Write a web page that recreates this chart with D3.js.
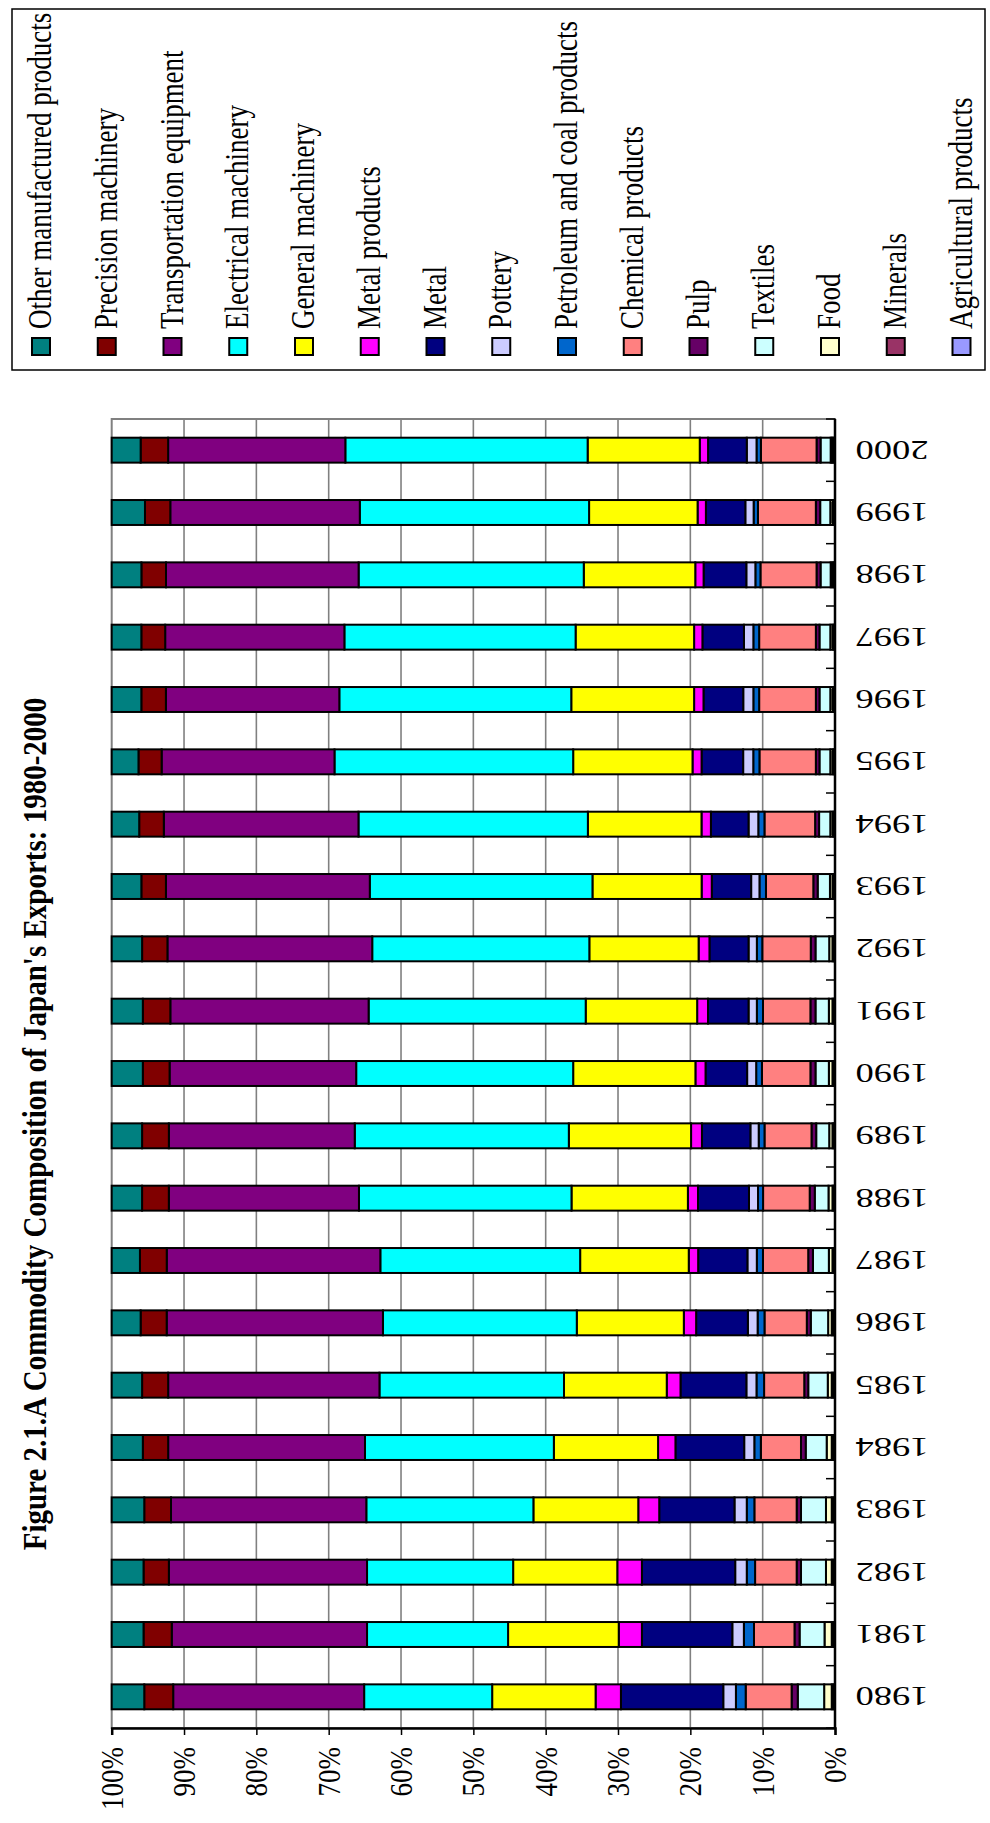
<!DOCTYPE html>
<html><head><meta charset="utf-8">
<script src="https://cdn.jsdelivr.net/npm/d3@7"></script>
<style>html,body{margin:0;padding:0;background:#fff;}svg{display:block;}</style>
</head><body>
<script>
// ---- DATA (percent shares, 1980..2000) ----
const years = [1980,1981,1982,1983,1984,1985,1986,1987,1988,1989,1990,1991,1992,1993,1994,1995,1996,1997,1998,1999,2000];
const tickLabels = ["0%","10%","20%","30%","40%","50%","60%","70%","80%","90%","100%"];
const title = "Figure 2.1.A Commodity Composition of Japan's Exports: 1980-2000";

const otherManufactured = [4.5,4.4,4.4,4.5,4.3,4.2,4.0,3.9,4.2,4.2,4.3,4.3,4.2,4.1,3.8,3.7,4.1,4.1,4.1,4.6,4.0];
const precisionMachinery = [4.0,3.9,3.5,3.7,3.5,3.6,3.6,3.7,3.7,3.7,3.7,3.8,3.5,3.4,3.4,3.2,3.4,3.3,3.4,3.5,3.8];
const transportation = [26.4,27.0,27.4,27.0,27.2,29.2,29.9,29.5,26.3,25.7,25.8,27.4,28.3,28.2,26.9,23.9,24.0,24.8,26.6,26.2,24.5];
const electrical = [17.7,19.5,20.2,23.1,26.1,25.5,26.8,27.6,29.4,29.6,30.0,30.0,30.0,30.8,31.7,33.0,32.1,32.0,31.1,31.7,33.5];
const generalMachinery = [14.3,15.3,14.4,14.5,14.4,14.2,14.8,15.0,16.1,16.9,16.9,15.4,15.1,15.1,15.7,16.5,17.0,16.4,15.4,15.0,15.5];
const metalProducts = [3.5,3.2,3.4,2.9,2.4,1.9,1.7,1.3,1.4,1.5,1.4,1.5,1.5,1.4,1.3,1.25,1.3,1.15,1.15,1.15,1.15];
const metal = [14.15,12.5,12.9,10.4,9.5,9.1,7.15,6.8,7.05,6.7,5.75,5.6,5.4,5.45,5.2,5.75,5.5,5.75,5.9,5.45,5.35];
const pottery = [1.75,1.6,1.6,1.7,1.4,1.4,1.35,1.3,1.25,1.15,1.25,1.15,1.15,1.15,1.35,1.4,1.4,1.3,1.25,1.15,1.35];
const petroleum = [1.35,1.4,1.15,1.05,0.9,1.05,0.95,0.85,0.7,0.8,0.8,0.85,0.75,0.9,0.85,0.85,0.8,0.8,0.7,0.6,0.6];
const chemical = [6.35,5.6,5.75,5.85,5.55,5.55,5.85,6.25,6.45,6.5,6.7,6.55,6.7,6.55,7.0,7.8,7.85,7.85,7.75,8.0,7.7];
const pulp = [0.85,0.7,0.6,0.6,0.65,0.55,0.55,0.65,0.7,0.65,0.7,0.7,0.65,0.6,0.55,0.5,0.5,0.5,0.55,0.6,0.55];
const textiles = [3.65,3.45,3.45,3.45,2.9,2.7,2.4,2.2,1.9,1.8,1.85,1.85,1.9,1.7,1.55,1.5,1.5,1.5,1.4,1.4,1.4];
const food = [1.05,1.0,0.8,0.8,0.7,0.55,0.5,0.5,0.55,0.45,0.5,0.5,0.45,0.35,0.3,0.3,0.3,0.3,0.25,0.3,0.2];
const minerals = [0.25,0.25,0.25,0.25,0.25,0.25,0.25,0.2,0.2,0.2,0.2,0.2,0.2,0.2,0.2,0.2,0.2,0.2,0.2,0.2,0.2];
const agricultural = [0.2,0.2,0.2,0.2,0.2,0.2,0.2,0.15,0.15,0.15,0.15,0.15,0.15,0.15,0.15,0.15,0.15,0.15,0.15,0.15,0.2];

// legend order (top of the stack first)
const seriesNames = ["Other manufactured products","Precision machinery","Transportation equipment","Electrical machinery","General machinery","Metal products","Metal","Pottery","Petroleum and coal products","Chemical products","Pulp","Textiles","Food","Minerals","Agricultural products"];
const seriesValues = [otherManufactured,precisionMachinery,transportation,electrical,generalMachinery,metalProducts,metal,pottery,petroleum,chemical,pulp,textiles,food,minerals,agricultural];
const seriesColors = ["#008080","#800000","#800080","#00FFFF","#FFFF00","#FF00FF","#000080","#CCCCFF","#0066CC","#FF8080","#660066","#CCFFFF","#FFFFCC","#993366","#9999FF"];

// ---- BUILD TABLE ----
const table = years.map((y,i)=>{
  const row = {year:y};
  seriesNames.forEach((n,k)=>{ row[n] = seriesValues[k][i]; });
  return row;
});
const stackKeys = seriesNames.slice().reverse(); // Agricultural at 0%
const stacked = d3.stack().keys(stackKeys).offset(d3.stackOffsetExpand)(table);
const colorOf = d3.scaleOrdinal().domain(seriesNames).range(seriesColors);

// ---- LAYOUT ----
const W = 990, H = 1823;
const plot = {left:111.7, right:835, top:419, bottom:1728};
const serif = "'Times New Roman','Liberation Serif',serif";

const svg = d3.select("body").append("svg").attr("width",W).attr("height",H);
svg.append("rect").attr("width",W).attr("height",H).attr("fill","#fff");

const x = d3.scaleLinear().domain([0,1]).range([plot.right, plot.left]);
const yBand = d3.scaleBand().domain(years.slice().reverse()).range([plot.top, plot.bottom]).paddingInner(0.6).paddingOuter(0.3);

// plot frame
svg.append("rect").attr("x",plot.left).attr("y",plot.top).attr("width",plot.right-plot.left).attr("height",plot.bottom-plot.top)
  .attr("fill","#fff").attr("stroke","#808080").attr("stroke-width",2);

// gridlines
svg.append("g").selectAll("line").data(d3.range(1,10).map(d=>d/10)).join("line")
  .attr("x1",d=>x(d)).attr("x2",d=>x(d)).attr("y1",plot.top).attr("y2",plot.bottom)
  .attr("stroke","#808080").attr("stroke-width",1.6);

// bars
const layers = svg.append("g").selectAll("g").data(stacked).join("g").attr("fill",d=>colorOf(d.key));
layers.selectAll("rect").data(d=>d).join("rect")
  .attr("x",d=>x(d[1])).attr("width",d=>x(d[0])-x(d[1]))
  .attr("y",d=>yBand(d.data.year)).attr("height",yBand.bandwidth())
  .attr("stroke","#000").attr("stroke-width",2);

// value axis (bottom)
const valueAxis = d3.axisBottom(x).tickValues(d3.range(0,11).map(d=>d/10)).tickSize(7).tickFormat("");
const gVal = svg.append("g").attr("transform",`translate(0,${plot.bottom})`).call(valueAxis);
gVal.select(".domain").attr("stroke","#000").attr("stroke-width",2.5);
gVal.selectAll(".tick line").attr("stroke","#000").attr("stroke-width",1.5);
svg.append("g").selectAll("text").data(tickLabels).join("text")
  .attr("transform",(d,i)=>`translate(${x(i/10)+11},1747) rotate(-90) scale(1,1.2)`)
  .attr("text-anchor","end").attr("font-family",serif).attr("font-size",27).attr("fill","#000")
  .text(d=>d);

// category axis (right)
svg.append("line").attr("x1",plot.right).attr("x2",plot.right).attr("y1",plot.top).attr("y2",plot.bottom)
  .attr("stroke","#000").attr("stroke-width",2.5);
const step = yBand.step();
svg.append("g").selectAll("line").data(d3.range(0,years.length+1)).join("line")
  .attr("x1",plot.right-9).attr("x2",plot.right).attr("y1",d=>plot.top+d*step).attr("y2",d=>plot.top+d*step)
  .attr("stroke","#000").attr("stroke-width",1.5);
svg.append("g").selectAll("text").data(years).join("text")
  .attr("transform",d=>`translate(892,${yBand(d)+yBand.bandwidth()/2}) rotate(180) scale(1.3,1)`)
  .attr("text-anchor","middle").attr("dominant-baseline","central")
  .attr("font-family",serif).attr("font-size",28).attr("fill","#000")
  .text(d=>d);

// title
svg.append("text").attr("transform","translate(46,1124) rotate(-90) scale(1,1.15)")
  .attr("text-anchor","middle").attr("font-family",serif).attr("font-weight","bold").attr("font-size",29)
  .attr("fill","#000").text(title);

// legend
svg.append("rect").attr("x",12).attr("y",9).attr("width",973).attr("height",361)
  .attr("fill","#fff").attr("stroke","#000").attr("stroke-width",1.5);
const leg = svg.append("g").selectAll("g").data(seriesNames).join("g")
  .attr("transform",(d,i)=>`translate(${41+65.75*i},0)`);
leg.append("rect").attr("x",-9).attr("y",338).attr("width",18).attr("height",17)
  .attr("fill",d=>colorOf(d)).attr("stroke","#000").attr("stroke-width",2);
leg.append("text").attr("transform","translate(10,329) rotate(-90) scale(1,1.25)")
  .attr("text-anchor","start").attr("font-family",serif).attr("font-size",27).attr("fill","#000")
  .text(d=>d);
</script>
</body></html>
